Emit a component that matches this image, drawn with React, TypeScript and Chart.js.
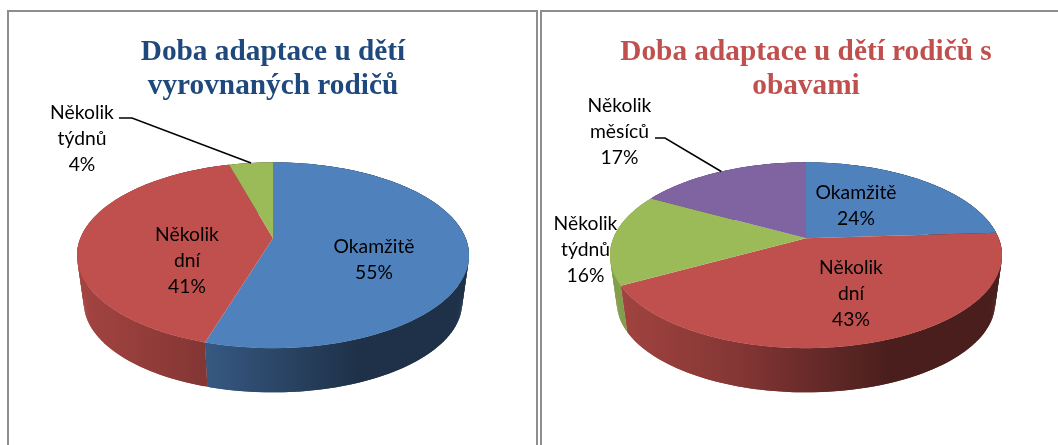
import React, { useEffect, useRef } from "react";
import { Chart, registerables } from "chart.js";

Chart.register(...registerables);

const leftTitle = ["Doba adaptace u dětí", "vyrovnaných rodičů"];
const leftCategories = [["Okamžitě"], ["Několik", "dní"], ["Několik", "týdnů"]];
const leftValues = [54.7, 41, 4.3];
const leftColors = ["#4F81BD", "#C0504D", "#9BBB59"];

const rightTitle = ["Doba adaptace u dětí rodičů s", "obavami"];
const rightCategories = [["Okamžitě"], ["Několik", "dní"], ["Několik", "týdnů"], ["Několik", "měsíců"]];
const rightValues = [24, 43, 16, 17];
const rightColors = ["#4F81BD", "#C0504D", "#9BBB59", "#8064A2"];

// Where each slice's text block is centred, and where its leader line starts, on the page.
const leftTargets = [[374, 260], [187, 261], [82, 139]];
const leftElbows = [null, null, [[119, 118], [132, 118]]];
const rightTargets = [[856, 205.5], [851, 294], [585.5, 250], [619.5, 132]];
const rightElbows = [null, null, null, [[655, 138], [665, 138]]];

const TILT = 0.466;
const PERSPECTIVE = 0.183;
const DEPTH_DROP = 48;
const DEPTH_SCALE = 0.965;
const RADIUS = 192.7;
const CANVAS_X = [8, 541];
const CANVAS_Y = 11;
const LABEL_LINE = 26;

function shade(hex: string, f: number) {
  const n = parseInt(hex.slice(1), 16);
  const c = [(n >> 16) & 255, (n >> 8) & 255, n & 255].map((v) => Math.round(v * f));
  return `rgb(${c[0]},${c[1]},${c[2]})`;
}

function makePlugin(categories: string[][], targets: number[][], elbows: any[], originX: number) {
  return {
    id: "pie3d",
    beforeDatasetsDraw(chart: any) {
      const ctx: CanvasRenderingContext2D = chart.ctx;
      const meta = chart.getDatasetMeta(0);
      const colors: string[] = chart.data.datasets[0].backgroundColor;
      const values: number[] = chart.data.datasets[0].data;
      const first = meta.data[0];
      const cx = first.x;
      const cy = first.y;
      const R = first.outerRadius;
      const proj = (a: number, f = 1, drop = 0) => {
        const X = Math.cos(a);
        const Y = Math.sin(a);
        const s = 1 / (1 - PERSPECTIVE * Y);
        return [cx + R * f * X * s, cy + drop + R * TILT * f * Y * s];
      };
      ctx.save();
      // side walls: overlapping strips so the silhouette between the rims is filled
      meta.data.forEach((el: any, i: number) => {
        const g = ctx.createLinearGradient(cx - R, 0, cx + R, 0);
        g.addColorStop(0, shade(colors[i], 0.85));
        g.addColorStop(0.33, shade(colors[i], 0.68));
        g.addColorStop(0.72, shade(colors[i], 0.38));
        g.addColorStop(1, shade(colors[i], 0.38));
        ctx.fillStyle = g;
        const n = Math.max(4, Math.ceil((el.endAngle - el.startAngle) * 60));
        const at = (k: number) => el.startAngle + ((el.endAngle - el.startAngle) * k) / n;
        for (let k = 0; k < n; k++) {
          const a0 = at(k);
          const a1 = at(Math.min(k + 2, n));
          const p = [proj(a0), proj(a1), proj(a1, DEPTH_SCALE, DEPTH_DROP), proj(a0, DEPTH_SCALE, DEPTH_DROP)];
          ctx.beginPath();
          ctx.moveTo(p[0][0], p[0][1]);
          p.slice(1).forEach((q) => ctx.lineTo(q[0], q[1]));
          ctx.closePath();
          ctx.fill();
        }
      });
      // top faces
      meta.data.forEach((el: any, i: number) => {
        const n = Math.max(4, Math.ceil((el.endAngle - el.startAngle) * 60));
        ctx.beginPath();
        ctx.moveTo(cx, cy);
        for (let k = 0; k <= n; k++) {
          const p = proj(el.startAngle + ((el.endAngle - el.startAngle) * k) / n);
          ctx.lineTo(p[0], p[1]);
        }
        ctx.closePath();
        ctx.fillStyle = colors[i];
        ctx.fill();
      });
      // leader lines
      meta.data.forEach((el: any, i: number) => {
        const e = elbows[i];
        if (!e) return;
        const end = proj((el.startAngle + el.endAngle) / 2);
        ctx.beginPath();
        ctx.moveTo(e[0][0] - originX, e[0][1] - CANVAS_Y);
        ctx.lineTo(e[1][0] - originX, e[1][1] - CANVAS_Y);
        ctx.lineTo(end[0], end[1]);
        ctx.strokeStyle = "#000";
        ctx.lineWidth = 1.5;
        ctx.stroke();
      });
      // data labels
      ctx.fillStyle = "#000";
      ctx.font = '19.3px Lato, "Open Sans", sans-serif';
      ctx.textAlign = "center";
      ctx.textBaseline = "middle";
      meta.data.forEach((_: any, i: number) => {
        const lines = [...categories[i], `${Math.round(values[i])}%`];
        const x = targets[i][0] - originX;
        const y = targets[i][1] - CANVAS_Y;
        lines.forEach((t, j) => {
          ctx.fillText(t, x, y + (j - (lines.length - 1) / 2) * LABEL_LINE);
        });
      });
      ctx.restore();
      return false;
    },
  };
}

function Pie(props: {
  title: string[];
  titleColor: string;
  categories: string[][];
  values: number[];
  colors: string[];
  targets: number[][];
  elbows: any[];
  originX: number;
}) {
  const ref = useRef<HTMLCanvasElement>(null);
  useEffect(() => {
    const chart = new Chart(ref.current!, {
      type: "pie",
      data: {
        labels: props.categories.map((c) => c.join(" ")),
        datasets: [{ data: props.values, backgroundColor: props.colors, borderWidth: 0 }],
      },
      options: {
        animation: false,
        responsive: false,
        radius: RADIUS,
        layout: { padding: { bottom: 72 } },
        plugins: {
          legend: { display: false },
          tooltip: { enabled: false },
          title: {
            display: true,
            text: props.title,
            color: props.titleColor,
            font: { family: '"Liberation Serif", serif', size: 29.3, weight: "bold", lineHeight: 1.17 },
            padding: { top: 24, bottom: 0 },
          },
        },
      } as any,
      plugins: [makePlugin(props.categories, props.targets, props.elbows, props.originX) as any],
    });
    return () => chart.destroy();
  }, []);
  return (
    <canvas
      ref={ref}
      width={530}
      height={434}
      style={{ position: "absolute", left: props.originX, top: CANVAS_Y, width: 530, height: 434 }}
    />
  );
}

const frame = (left: number, width: number): React.CSSProperties => ({
  position: "absolute",
  left,
  top: 10,
  width,
  height: 500,
  border: "2px solid #8e8e8e",
  boxSizing: "border-box",
});

export default function App() {
  return (
    <div style={{ position: "fixed", left: 0, top: 0, width: 1058, height: 445, overflow: "hidden", background: "#fff" }}>
      <div style={frame(7, 531)} />
      <div style={frame(540, 560)} />
      <Pie
        title={leftTitle}
        titleColor="#1F497D"
        categories={leftCategories}
        values={leftValues}
        colors={leftColors}
        targets={leftTargets}
        elbows={leftElbows}
        originX={CANVAS_X[0]}
      />
      <Pie
        title={rightTitle}
        titleColor="#C0504D"
        categories={rightCategories}
        values={rightValues}
        colors={rightColors}
        targets={rightTargets}
        elbows={rightElbows}
        originX={CANVAS_X[1]}
      />
    </div>
  );
}
